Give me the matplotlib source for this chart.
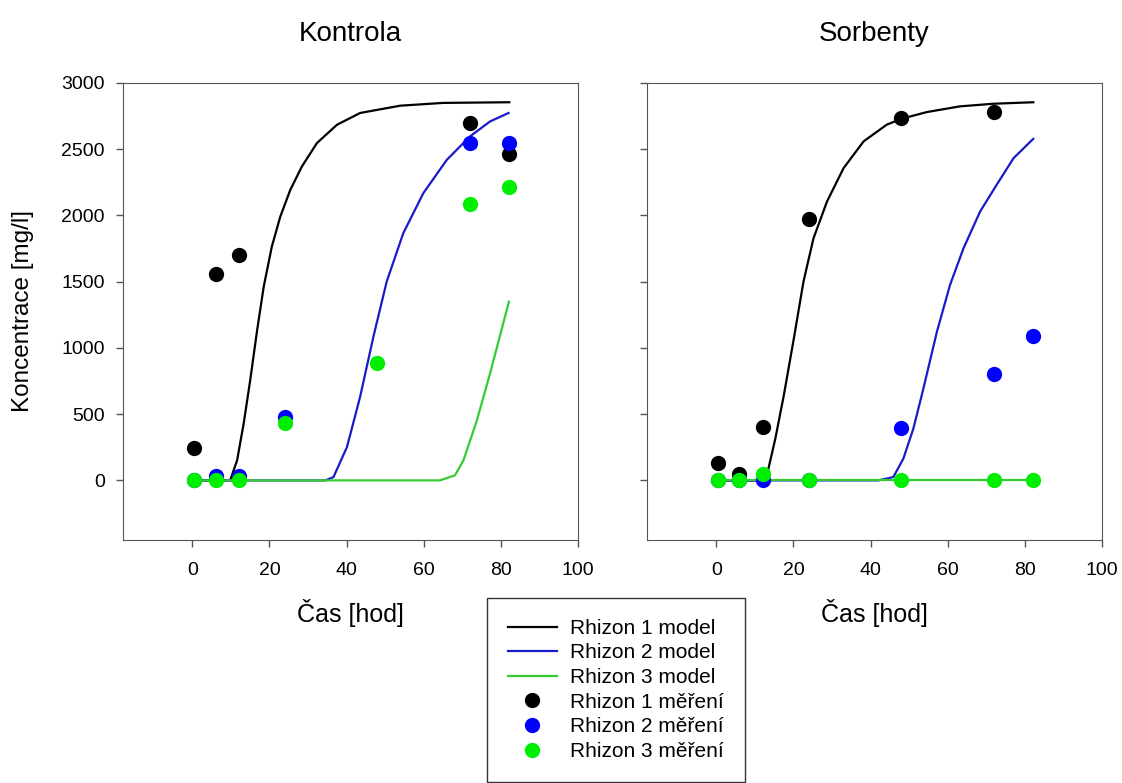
import matplotlib
matplotlib.use("Agg")
import matplotlib.pyplot as plt
from matplotlib.lines import Line2D

plt.rcParams["font.family"] = ["Liberation Sans", "DejaVu Sans"]

# --- Kontrola: model ---
k_r1_t = [0, 9.8, 11.6, 13.3, 15.0, 16.8, 18.5, 20.6, 22.8, 25.4, 28.4, 32.3, 37.5, 43.5, 53.9, 65.0, 82.2]
k_r1_c = [0, 0, 151, 428, 756, 1134, 1461, 1763, 1990, 2192, 2368, 2545, 2683, 2772, 2827, 2848, 2853]
k_r2_t = [0, 34.5, 36.6, 40.1, 43.5, 47.0, 50.4, 54.7, 59.9, 66.0, 72.0, 77.2, 82.0]
k_r2_c = [0, 0, 25, 252, 630, 1090, 1500, 1865, 2167, 2419, 2595, 2708, 2772]
k_r3_t = [0, 64.2, 68.1, 70.3, 73.8, 77.2, 82.1]
k_r3_c = [0, 0, 38, 151, 454, 806, 1348]

# --- Kontrola: mereni ---
k_m1_t = [0.5, 6, 12, 72, 82]
k_m1_c = [247, 1555, 1697, 2697, 2463]
k_m2_t = [0.5, 6, 12, 24, 72, 82]
k_m2_c = [0, 30, 30, 479, 2546, 2546]
k_m3_t = [0.5, 6, 12, 24, 48, 72, 82]
k_m3_c = [0, 0, 0, 434, 882, 2087, 2213]

# --- Sorbenty: model ---
s_r1_t = [0, 12.2, 13.1, 15.3, 17.5, 20.1, 22.6, 25.2, 28.7, 33.0, 38.2, 44.2, 48.1, 54.6, 63.2, 72.0, 82.2]
s_r1_c = [0, 0, 38, 315, 642, 1071, 1500, 1827, 2104, 2356, 2558, 2684, 2729, 2779, 2822, 2842, 2853]
s_r2_t = [0, 42.0, 45.9, 48.5, 51.1, 53.7, 57.2, 60.6, 64.1, 68.4, 72.7, 77.1, 82.2]
s_r2_c = [0, 0, 25, 164, 391, 693, 1121, 1474, 1751, 2028, 2230, 2432, 2577]
s_r3_t = [0, 82.2]
s_r3_c = [0, 0]

# --- Sorbenty: mereni ---
s_m1_t = [0.5, 6, 12, 24, 48, 72]
s_m1_c = [134, 50, 403, 1973, 2734, 2780]
s_m2_t = [0.5, 6, 12, 24, 48, 72, 82]
s_m2_c = [0, 0, 0, 0, 396, 799, 1089]
s_m3_t = [0.5, 6, 12, 24, 48, 72, 82]
s_m3_c = [0, 0, 50, 0, 0, 0, 0]

titles = ["Kontrola", "Sorbenty"]
labels = ["Rhizon 1 model", "Rhizon 2 model", "Rhizon 3 model",
          "Rhizon 1 měření", "Rhizon 2 měření", "Rhizon 3 měření"]

LC = ["black", "#1a1acc", "#33cc33"]   # barvy car
MC = ["black", "#0000ff", "#00ee00"]   # barvy bodu

fig = plt.figure(figsize=(11.22, 7.83), dpi=100)
ax1 = fig.add_axes([0.1096, 0.3103, 0.4055, 0.584])
ax2 = fig.add_axes([0.5766, 0.3103, 0.4055, 0.584])

data = [
    (ax1, [(k_r1_t, k_r1_c), (k_r2_t, k_r2_c), (k_r3_t, k_r3_c)],
          [(k_m1_t, k_m1_c), (k_m2_t, k_m2_c), (k_m3_t, k_m3_c)]),
    (ax2, [(s_r1_t, s_r1_c), (s_r2_t, s_r2_c), (s_r3_t, s_r3_c)],
          [(s_m1_t, s_m1_c), (s_m2_t, s_m2_c), (s_m3_t, s_m3_c)]),
]

for i, (ax, models, meas) in enumerate(data):
    for (t, c), col in zip(models, LC):
        ax.plot(t, c, color=col, lw=1.6, zorder=2, solid_joinstyle="round")
    for (t, c), col in zip(meas, MC):
        ax.plot(t, c, "o", color=col, ms=11, mec="none", zorder=3)
    ax.set_xlim(-18, 100)
    ax.set_ylim(-450, 3000)
    ax.set_xticks(range(0, 101, 20))
    ax.set_yticks(range(0, 3001, 500))
    ax.tick_params(direction="out", length=5, width=1, color="#555555",
                   labelsize=14)
    ax.tick_params(axis="x", pad=11)
    ax.tick_params(axis="y", pad=8)
    for s in ax.spines.values():
        s.set_color("#555555")
    ax.set_title(titles[i], fontsize=20, pad=30)
    ax.set_xlabel("Čas [hod]", fontsize=18, labelpad=14)

ax1.set_ylabel("Koncentrace [mg/l]", fontsize=17.5, labelpad=20)
ax2.tick_params(axis="y", labelleft=False)

handles = [Line2D([], [], color=c, lw=1.6) for c in LC] + \
          [Line2D([], [], ls="none", marker="o", color=c, ms=11, mec="none") for c in MC]
leg = fig.legend(handles, labels, loc="upper left", bbox_to_anchor=(487 / 1122, 1 - 598 / 783),
                 borderaxespad=0, fontsize=15, frameon=True, fancybox=False, edgecolor="black",
                 handlelength=2.35, labelspacing=0.27, borderpad=1.0, handletextpad=0.65)
leg.get_frame().set_linewidth(1.0)

fig.savefig("out.png", dpi=100)
